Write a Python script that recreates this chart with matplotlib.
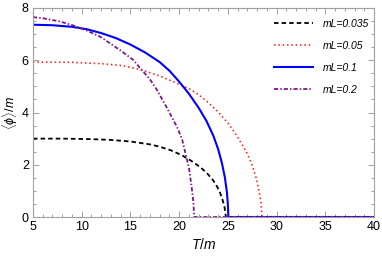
import matplotlib
matplotlib.use("Agg")
import matplotlib.pyplot as plt
from matplotlib.ticker import MultipleLocator

plt.rcParams['font.family'] = ['Liberation Sans', 'DejaVu Sans']
plt.rcParams['mathtext.fontset'] = 'custom'
plt.rcParams['mathtext.rm'] = 'Liberation Sans'
plt.rcParams['mathtext.it'] = 'Liberation Sans:italic'

labels = ["mL=0.035", "mL=0.05", "mL=0.1", "mL=0.2"]

T_035 = [5, 8, 11, 13, 15, 17, 18, 19.1, 20.2, 21.2, 22.2, 22.9, 23.5, 23.9, 24.2, 24.45, 24.65, 24.8, 40]
v_035 = [3.0, 3.0, 2.98, 2.95, 2.89, 2.78, 2.69, 2.56, 2.38, 2.16, 1.9, 1.66, 1.4, 1.16, 0.93, 0.66, 0.4, 0.0, 0.0]

T_05 = [5, 9, 12, 14, 16, 18, 20, 21, 22, 23, 24, 25, 25.8, 26.5, 27, 27.5, 27.9, 28.2, 28.4, 28.5, 40]
v_05 = [5.93, 5.92, 5.87, 5.8, 5.65, 5.4, 5.08, 4.92, 4.68, 4.38, 4.02, 3.6, 3.18, 2.75, 2.42, 1.98, 1.5, 1.0, 0.55, 0.0, 0.0]

T_1 = [5, 7, 9, 10.5, 12, 13.5, 15, 16.5, 18, 19, 20, 21, 22, 22.8, 23.5, 24, 24.4, 24.7, 24.9, 25.0, 25.05, 40]
v_1 = [7.36, 7.34, 7.28, 7.19, 7.04, 6.85, 6.6, 6.3, 5.93, 5.6, 5.18, 4.72, 4.18, 3.68, 3.12, 2.6, 2.05, 1.5, 0.95, 0.5, 0.0, 0.0]

T_2 = [5, 6, 7.8, 9.15, 10.5, 11.9, 12.9, 14, 15.3, 16, 17, 17.7, 18.76, 19.8, 20.3, 20.8, 21.0, 21.3, 21.45, 21.55, 40]
v_2 = [7.65, 7.61, 7.48, 7.33, 7.14, 6.9, 6.65, 6.37, 6.01, 5.7, 5.27, 4.88, 4.17, 3.43, 2.98, 2.2, 1.9, 1.1, 0.6, 0.0, 0.0]

fig = plt.figure(figsize=(3.82, 2.58), dpi=100)
ax = fig.add_axes([33/382, 1-217/258, (374-33)/382, (217-8)/258])

ax.plot(T_035, v_035, color='black', lw=1.3, linestyle=(0, (2.5, 1.7)), label=labels[0])
ax.plot(T_05, v_05, color='#ff2020', lw=1.2, linestyle=(0, (0.9, 1.7)), label=labels[1])
ax.plot(T_1, v_1, color='#0000ff', lw=1.5, linestyle='-', label=labels[2])
ax.plot(T_2, v_2, color='#80158a', lw=1.3, linestyle=(0, (2.3, 1.15, 0.8, 1.15)), label=labels[3])

ax.set_xlim(5, 40)
ax.set_ylim(0, 8)
ax.xaxis.set_major_locator(MultipleLocator(5))
ax.xaxis.set_minor_locator(MultipleLocator(1))
ax.yaxis.set_major_locator(MultipleLocator(2))
ax.yaxis.set_minor_locator(MultipleLocator(0.5))

for s in ax.spines.values():
    s.set_color('#a0a0a0')
    s.set_linewidth(0.8)
ax.tick_params(which='both', direction='in', top=True, right=True, colors='#a0a0a0',
               labelcolor='black', labelsize=9, width=0.7)
ax.tick_params(which='major', length=4, pad=3)
ax.tick_params(which='minor', length=2)

ax.set_xlabel(r'$T/m$', fontsize=10, labelpad=3)
ax.set_ylabel(r'$\langle\phi\rangle/m$', fontsize=9, labelpad=1)

leg = ax.legend(loc='upper left', bbox_to_anchor=(0.692, 0.972), frameon=False,
                borderpad=0, handlelength=3.7, handletextpad=1.0, labelspacing=1.15,
                prop={'size': 7.5, 'style': 'italic'})

fig.savefig('out.png', dpi=100)
